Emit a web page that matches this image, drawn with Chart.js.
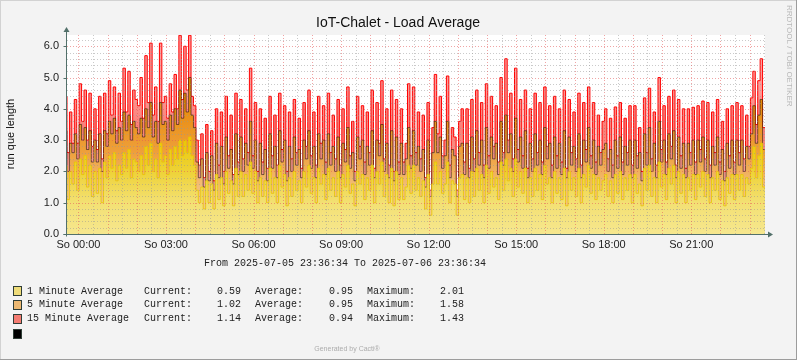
<!DOCTYPE html>
<html lang="en">
<head>
<meta charset="UTF-8">
<title>IoT-Chalet - Load Average</title>
<script src="https://cdn.jsdelivr.net/npm/chart.js"></script>
<style>
    html, body { margin: 0; padding: 0; background: #f3f3f3; }
    #load { display: block; }
</style>
</head>
<body>
<canvas id="load" width="797" height="360"></canvas>
<script>
    // stacked edges, one value per 5 minutes (12 per row = 1 hour)
    const fifteenMin = [
        4.4, 2.6, 3.9, 2.9, 4.3, 2.9, 4.8, 3.6, 4.6, 3.0, 4.5, 2.8,
        4.0, 2.7, 4.4, 2.4, 4.5, 3.2, 4.9, 3.8, 4.7, 3.3, 4.5, 3.6,
        5.3, 3.9, 5.2, 3.5, 4.6, 4.3, 4.1, 5.0, 3.7, 5.7, 4.2, 6.1,
        3.8, 4.7, 3.6, 6.1, 4.2, 4.4, 3.7, 4.8, 3.9, 5.1, 4.0, 6.35,
        4.3, 6.0, 4.6, 6.35, 4.4, 4.1, 3.0, 2.2, 3.2, 1.8, 3.5, 2.0,
        3.3, 1.7, 4.0, 2.2, 3.9, 2.0, 4.4, 2.5, 3.8, 1.9, 4.5, 2.3,
        4.3, 2.4, 4.0, 2.6, 5.3, 2.5, 4.2, 2.0, 4.0, 2.3, 3.7, 2.1,
        4.4, 2.5, 3.8, 2.2, 4.5, 2.7, 4.1, 2.0, 3.9, 2.4, 4.3, 2.6,
        3.7, 2.1, 4.2, 2.8, 4.6, 2.5, 3.9, 2.2, 4.4, 2.9, 4.1, 2.3,
        4.5, 2.6, 3.8, 2.4, 4.3, 2.2, 4.0, 2.7, 4.7, 2.5, 3.6, 2.0,
        4.4, 2.8, 4.1, 2.3, 3.9, 2.6, 4.6, 2.1, 4.2, 2.9, 4.9, 2.4,
        4.0, 2.2, 4.6, 2.0, 4.3, 2.3, 4.0, 2.3, 2.9, 4.8, 2.5, 4.7,
        2.6, 3.9, 2.4, 3.8, 1.8, 4.2, 1.4, 3.4, 5.1, 3.2, 4.4, 2.5,
        3.0, 5.05, 2.2, 3.4, 3.1, 1.4, 3.6, 4.0, 2.3, 4.0, 2.1, 4.3,
        2.4, 4.6, 2.6, 4.2, 2.2, 4.8, 2.5, 4.4, 2.8, 4.1, 2.3, 5.0,
        2.6, 5.6, 3.0, 4.5, 2.4, 5.3, 2.7, 4.3, 2.5, 4.6, 2.1, 4.0,
        2.4, 4.5, 2.6, 4.2, 2.3, 4.7, 2.8, 4.1, 2.2, 4.4, 2.5, 4.0,
        2.3, 4.6, 2.1, 4.3, 2.6, 3.9, 2.4, 4.5, 2.2, 4.2, 2.7, 4.7,
        2.5, 4.2, 2.3, 3.8, 2.6, 3.6, 4.0, 2.4, 3.7, 2.2, 4.06, 2.5,
        4.2, 2.3, 3.7, 2.6, 4.1, 2.2, 4.1, 2.5, 3.4, 2.0, 4.35, 2.6,
        4.66, 2.4, 3.9, 2.2, 5.0, 2.7, 4.1, 2.3, 4.4, 2.8, 4.6, 2.2,
        4.3, 2.5, 4.0, 2.1, 4.0, 2.6, 4.05, 2.3, 4.1, 2.7, 4.25, 2.4,
        4.2, 2.2, 3.9, 2.6, 4.3, 2.3, 3.6, 2.0, 4.0, 2.5, 4.1, 2.3,
        4.2, 2.6, 4.1, 2.4, 3.8, 2.8, 4.35, 5.2, 3.5, 4.9, 5.6, 3.4
    ];
    const fiveMin = [
        3.3, 2.0, 2.9, 2.6, 3.2, 2.4, 3.5, 3.0, 3.4, 2.7, 3.3, 2.3,
        3.0, 2.3, 3.2, 2.0, 3.3, 2.8, 3.6, 3.2, 3.7, 2.9, 3.4, 3.0,
        3.9, 3.3, 3.8, 3.0, 3.6, 3.4, 3.2, 3.7, 3.1, 4.0, 3.4, 4.2,
        3.1, 3.6, 2.9, 4.2, 3.5, 3.6, 3.0, 3.8, 3.3, 4.0, 3.5, 4.6,
        3.7, 4.5, 3.9, 5.0, 3.8, 3.4, 2.3, 1.8, 2.4, 1.5, 2.6, 1.7,
        2.5, 1.4, 2.9, 1.8, 2.8, 1.6, 3.1, 2.1, 2.7, 1.6, 3.2, 1.9,
        3.1, 2.0, 2.9, 2.2, 3.6, 2.1, 3.0, 1.7, 2.9, 1.9, 2.7, 1.7,
        3.2, 2.1, 2.8, 1.8, 3.3, 2.3, 3.0, 1.7, 2.8, 2.0, 3.1, 2.2,
        2.7, 1.8, 3.0, 2.4, 3.3, 2.1, 2.8, 1.8, 3.2, 2.4, 3.0, 1.9,
        3.2, 2.2, 2.8, 2.0, 3.1, 1.8, 2.9, 2.3, 3.4, 2.1, 2.6, 1.7,
        3.1, 2.4, 3.0, 1.9, 2.8, 2.2, 3.3, 1.8, 3.0, 2.5, 3.5, 2.0,
        2.9, 1.8, 3.3, 1.7, 3.1, 1.9, 2.9, 1.9, 2.4, 3.4, 2.1, 3.3,
        2.2, 2.8, 2.0, 2.7, 1.5, 3.0, 1.2, 2.6, 3.6, 2.6, 3.1, 2.1,
        2.5, 3.6, 1.8, 2.7, 2.5, 1.2, 2.8, 2.9, 1.9, 2.9, 1.8, 3.1,
        2.0, 3.3, 2.2, 3.0, 1.8, 3.4, 2.1, 3.1, 2.4, 2.9, 1.9, 3.6,
        2.2, 3.8, 2.6, 3.2, 2.0, 3.7, 2.3, 3.1, 2.1, 3.3, 1.8, 2.9,
        2.0, 3.2, 2.2, 3.0, 1.9, 3.4, 2.4, 2.9, 1.8, 3.1, 2.1, 2.9,
        1.9, 3.3, 1.8, 3.1, 2.2, 2.8, 2.0, 3.2, 1.8, 3.0, 2.3, 3.4,
        2.1, 3.0, 1.9, 2.8, 2.2, 2.7, 2.9, 2.0, 2.7, 1.8, 3.0, 2.1,
        3.1, 1.9, 2.8, 2.2, 3.0, 1.8, 3.0, 2.1, 2.6, 1.7, 3.2, 2.2,
        3.4, 2.0, 2.9, 1.8, 3.6, 2.3, 3.0, 1.9, 3.2, 2.4, 3.3, 1.8,
        3.1, 2.1, 2.9, 1.8, 2.9, 2.2, 3.0, 1.9, 3.0, 2.3, 3.1, 2.0,
        3.0, 1.8, 2.8, 2.2, 3.1, 1.9, 2.7, 1.7, 2.9, 2.1, 3.0, 1.9,
        3.0, 2.2, 3.0, 2.0, 2.8, 2.4, 3.2, 4.1, 2.9, 3.8, 4.3, 2.7
    ];
    const oneMin = [
        2.2, 1.1, 2.0, 1.6, 2.3, 1.4, 2.4, 1.9, 2.5, 1.5, 2.2, 1.2,
        2.0, 1.3, 2.1, 1.0, 2.3, 1.8, 2.5, 2.1, 2.6, 1.7, 2.2, 1.9,
        2.6, 2.1, 2.7, 1.8, 2.4, 2.3, 2.0, 2.5, 1.9, 2.8, 2.2, 2.9,
        2.0, 2.4, 1.8, 2.9, 2.3, 2.5, 1.9, 2.7, 2.2, 2.8, 2.4, 3.0,
        2.5, 3.0, 2.6, 3.1, 2.5, 2.2, 1.4, 1.0, 1.5, 0.8, 1.7, 1.0,
        1.6, 0.8, 1.9, 1.1, 1.8, 0.9, 2.0, 1.3, 1.7, 0.9, 2.1, 1.2,
        2.0, 1.2, 1.9, 1.4, 2.3, 1.3, 2.0, 1.0, 1.8, 1.2, 1.7, 1.0,
        2.1, 1.3, 1.8, 1.0, 2.2, 1.5, 1.9, 0.9, 1.8, 1.2, 2.0, 1.4,
        1.7, 1.0, 2.0, 1.5, 2.2, 1.3, 1.8, 1.0, 2.1, 1.6, 1.9, 1.1,
        2.1, 1.4, 1.8, 1.2, 2.0, 1.0, 1.9, 1.5, 2.2, 1.3, 1.6, 0.9,
        2.0, 1.6, 1.9, 1.1, 1.8, 1.4, 2.2, 1.0, 2.0, 1.6, 2.3, 1.2,
        1.9, 1.0, 2.1, 0.9, 2.0, 1.1, 1.8, 1.1, 1.5, 2.2, 1.3, 2.2,
        1.4, 1.8, 1.2, 1.7, 0.8, 1.9, 0.6, 1.6, 2.3, 1.6, 2.0, 1.3,
        1.6, 2.3, 1.0, 1.7, 1.6, 0.6, 1.8, 1.9, 1.1, 1.8, 1.0, 2.0,
        1.2, 2.1, 1.4, 1.9, 1.0, 2.2, 1.3, 2.0, 1.5, 1.8, 1.1, 2.3,
        1.4, 2.4, 1.7, 2.1, 1.2, 2.4, 1.5, 2.0, 1.3, 2.1, 1.0, 1.8,
        1.2, 2.1, 1.4, 1.9, 1.1, 2.2, 1.6, 1.8, 1.0, 2.0, 1.3, 1.8,
        1.1, 2.1, 0.9, 2.0, 1.4, 1.8, 1.2, 2.1, 1.0, 1.9, 1.5, 2.2,
        1.3, 1.9, 1.1, 1.8, 1.4, 1.7, 1.9, 1.2, 1.7, 1.0, 1.9, 1.3,
        2.0, 1.1, 1.8, 1.4, 1.9, 1.0, 1.9, 1.3, 1.6, 0.9, 2.1, 1.4,
        2.2, 1.2, 1.8, 1.0, 2.3, 1.5, 1.9, 1.1, 2.1, 1.6, 2.2, 1.0,
        2.0, 1.3, 1.9, 1.0, 1.8, 1.4, 1.9, 1.1, 1.9, 1.5, 2.0, 1.2,
        1.9, 1.0, 1.8, 1.4, 2.0, 1.1, 1.7, 0.9, 1.8, 1.3, 1.9, 1.1,
        1.9, 1.4, 1.9, 1.2, 1.8, 1.6, 2.1, 2.8, 1.8, 2.5, 2.9, 1.5
    ];

    const hourLabels = ['So 00:00', 'So 03:00', 'So 06:00', 'So 09:00', 'So 12:00', 'So 15:00', 'So 18:00', 'So 21:00'];
    const yTicks = [0, 1, 2, 3, 4, 5, 6];

    const seriesNames = ['1 Minute Average', '5 Minute Average', '15 Minute Average'];
    const currentVals = ['0.59', '1.02', '1.14'];
    const averageVals = ['0.95', '0.95', '0.94'];
    const maximumVals = ['2.01', '1.58', '1.43'];
    const swatches = ['#efdc7a', '#ecb872', '#f47c72', '#000000'];

    // 23:36:34 the evening before, in hours relative to midnight
    const t0 = -(23 * 60 + 26) / 3600;
    const times = fifteenMin.map((_, i) => t0 + i / 12);
    const halfHours = Array.from({ length: 48 }, (_, k) => k / 2);

    const MAJOR = 'rgba(228, 90, 90, 0.55)';
    const MINOR = 'rgba(150, 150, 150, 0.5)';
    const AXIS = '#52706a';

    function grad(ctx, stops) {
        const chart = ctx.chart;
        const ys = chart.scales.y;
        if (!ys || !chart.chartArea) return stops[0][1];
        const g = chart.ctx.createLinearGradient(0, ys.getPixelForValue(0), 0, ys.getPixelForValue(6));
        stops.forEach(([v, c]) => g.addColorStop(v / 6, c));
        return g;
    }

    const yellowStops = [[0, 'rgb(246,231,142)'], [1.0, 'rgb(243,224,115)'], [2.0, 'rgb(238,210,55)'], [3.2, 'rgb(234,200,0)']];
    const orangeStops = [[0, 'rgb(243,205,145)'], [1.5, 'rgb(242,190,120)'], [2.6, 'rgb(238,160,60)'], [4.2, 'rgb(232,138,10)']];
    const pinkStops = [[0, 'rgb(250,178,168)'], [2.0, 'rgb(248,152,142)'], [3.4, 'rgb(250,128,120)'], [4.6, 'rgba(252,110,105,0.7)'], [6, 'rgba(255,80,80,0.55)']];

    function line(c, x1, y1, x2, y2) {
        c.beginPath();
        c.moveTo(x1, y1);
        c.lineTo(x2, y2);
        c.stroke();
    }

    const decor = {
        id: 'decor',
        beforeDraw(chart) {
            const c = chart.ctx, a = chart.chartArea;
            c.save();
            c.fillStyle = '#f3f3f3';
            c.fillRect(0, 0, 797, 360);
            c.fillStyle = '#d2d2d2';
            c.fillRect(0, 0, 797, 1);
            c.fillRect(0, 0, 1, 360);
            c.fillStyle = '#9c9c9c';
            c.fillRect(796, 0, 1, 360);
            c.fillRect(0, 359, 797, 1);
            c.fillStyle = '#ffffff';
            c.fillRect(a.left, a.top, a.right - a.left, a.bottom - a.top);
            c.restore();
        },
        afterDatasetsDraw(chart) {
            const c = chart.ctx, a = chart.chartArea;
            const xs = chart.scales.x, ys = chart.scales.y;
            c.save();
            c.lineWidth = 1;
            c.setLineDash([1, 2]);
            for (let k = 1; k * 0.2 <= ys.max; k++) {
                const py = Math.round(ys.getPixelForValue(k * 0.2)) + 0.5;
                c.strokeStyle = k % 5 === 0 ? MAJOR : MINOR;
                line(c, a.left, py, a.right, py);
            }
            halfHours.forEach(h => {
                const px = Math.round(xs.getPixelForValue(h)) + 0.5;
                c.strokeStyle = h % 1 === 0 ? MAJOR : MINOR;
                line(c, px, a.top, px, a.bottom + 2);
            });
            c.setLineDash([]);
            c.strokeStyle = AXIS;
            c.fillStyle = AXIS;
            const ax = a.left - 0.5, ay = a.bottom + 0.5;
            line(c, ax, ay + 2, ax, a.top - 4);
            line(c, ax - 3, ay, a.right + 4, ay);
            yTicks.forEach(v => {
                const py = Math.round(ys.getPixelForValue(v)) + 0.5;
                line(c, ax - 3, py, ax, py);
            });
            c.beginPath();
            c.moveTo(ax - 3, a.top - 3);
            c.lineTo(ax + 3, a.top - 3);
            c.lineTo(ax, a.top - 8);
            c.closePath();
            c.fill();
            c.beginPath();
            c.moveTo(a.right + 3, ay - 3);
            c.lineTo(a.right + 3, ay + 3);
            c.lineTo(a.right + 8, ay);
            c.closePath();
            c.fill();
            c.restore();
        },
        afterDraw(chart) {
            const c = chart.ctx;
            c.save();
            c.fillStyle = '#111';
            c.textBaseline = 'middle';
            c.textAlign = 'center';
            c.font = '14px "Liberation Sans", Arial, sans-serif';
            c.fillText('IoT-Chalet - Load Average', 398, 23);

            c.save();
            c.translate(11, 134);
            c.rotate(-Math.PI / 2);
            c.font = '11px "Liberation Sans", Arial, sans-serif';
            c.fillText('run que length', 0, 0);
            c.restore();

            c.save();
            c.translate(789, 5);
            c.rotate(Math.PI / 2);
            c.textAlign = 'left';
            c.fillStyle = '#b8b8b8';
            c.font = '8px "Liberation Sans", Arial, sans-serif';
            c.fillText('RRDTOOL / TOBI OETIKER', 0, 0);
            c.restore();

            c.font = '10px "Liberation Mono", "Courier New", monospace';
            c.textAlign = 'left';
            c.fillStyle = '#222';
            c.fillText('From 2025-07-05 23:36:34 To 2025-07-06 23:36:34', 204, 263);

            const rows = [291, 304.7, 318.7, 334];
            swatches.forEach((col, i) => {
                const y = Math.round(rows[i]);
                c.fillStyle = col;
                c.fillRect(14, y - 4, 7, 8);
                c.strokeStyle = '#2f3d36';
                c.lineWidth = 1;
                c.strokeRect(13.5, y - 4.5, 8, 9);
            });
            c.fillStyle = '#222';
            seriesNames.forEach((name, i) => {
                const y = rows[i];
                c.fillText(name, 27, y);
                c.fillText('Current:', 144, y);
                c.fillText(currentVals[i], 217, y);
                c.fillText('Average:', 255, y);
                c.fillText(averageVals[i], 329, y);
                c.fillText('Maximum:', 367, y);
                c.fillText(maximumVals[i], 440, y);
            });

            c.textAlign = 'center';
            c.fillStyle = '#adadad';
            c.font = '7px "Liberation Sans", Arial, sans-serif';
            c.fillText('Generated by Cacti\u00ae', 347, 349);
            c.restore();
        }
    };

    const tickFont = { family: '"Liberation Sans", Arial, sans-serif', size: 11 };

    new Chart(document.getElementById('load'), {
        type: 'line',
        data: {
            labels: times,
            datasets: [
                {
                    label: seriesNames[0], data: oneMin, fill: 'origin', stepped: 'after',
                    borderColor: 'rgba(232,198,0,0.8)', borderWidth: 1, pointRadius: 0,
                    backgroundColor: ctx => grad(ctx, yellowStops)
                },
                {
                    label: seriesNames[1], data: fiveMin, fill: 'origin', stepped: 'after',
                    borderColor: 'rgba(0,0,0,0.5)', borderWidth: 1, pointRadius: 0,
                    backgroundColor: ctx => grad(ctx, orangeStops)
                },
                {
                    label: seriesNames[2], data: fifteenMin, fill: 'origin', stepped: 'after',
                    borderColor: '#ff0000', borderWidth: 1, pointRadius: 0,
                    backgroundColor: ctx => grad(ctx, pinkStops)
                }
            ]
        },
        options: {
            responsive: false,
            animation: false,
            events: [],
            layout: { padding: { left: 0, right: 32, top: 35, bottom: 106 } },
            plugins: { legend: { display: false }, tooltip: { enabled: false }, title: { display: false } },
            elements: { line: { tension: 0 } },
            scales: {
                x: {
                    type: 'linear',
                    min: t0,
                    max: times[times.length - 1],
                    grid: { display: false, drawTicks: false },
                    border: { display: false },
                    afterBuildTicks: s => { s.ticks = halfHours.map(v => ({ value: v })); },
                    afterFit: s => { s.height = 20; },
                    ticks: {
                        autoSkip: false, maxRotation: 0, minRotation: 0, padding: 4,
                        color: '#222', font: tickFont,
                        callback: v => (v % 3 === 0 ? hourLabels[v / 3] : '')
                    }
                },
                y: {
                    min: 0,
                    max: 6.36,
                    grid: { display: false, drawTicks: false },
                    border: { display: false },
                    afterBuildTicks: s => { s.ticks = yTicks.map(v => ({ value: v })); },
                    afterFit: s => { s.width = 67; },
                    ticks: {
                        padding: 8, color: '#222', font: tickFont,
                        callback: v => v.toFixed(1)
                    }
                }
            }
        },
        plugins: [decor]
    });
</script>
</body>
</html>
